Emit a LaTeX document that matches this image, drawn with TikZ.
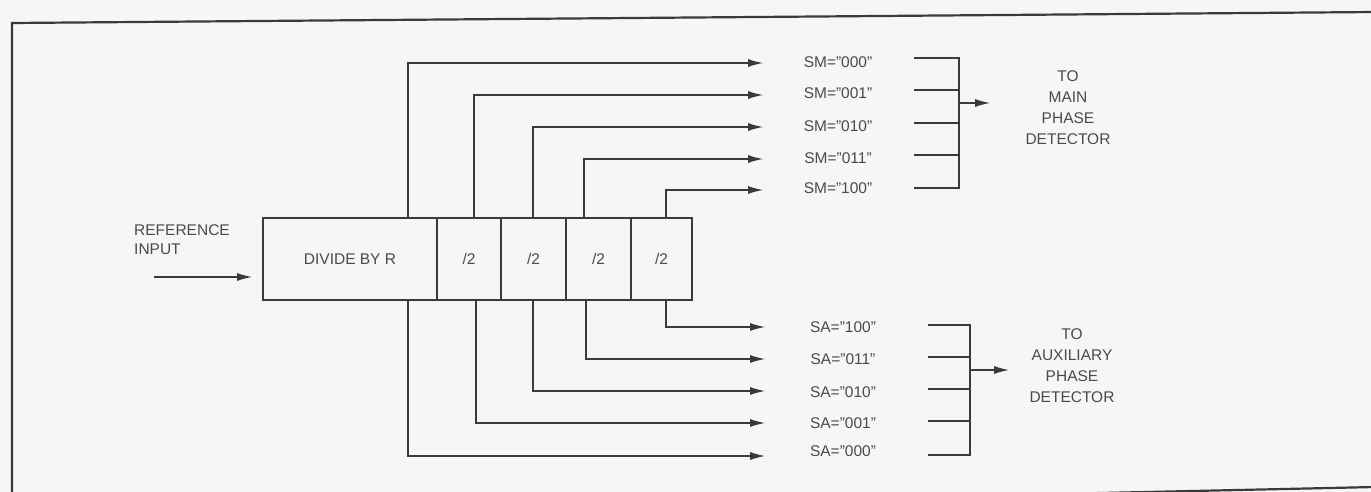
\documentclass[tikz,border=0pt]{standalone}
\usepackage{fontspec}
\setmainfont{Liberation Sans}
\usetikzlibrary{arrows.meta}
\definecolor{bg}{HTML}{F6F6F6}
\definecolor{ink}{HTML}{3A3A3A}
\definecolor{txt}{HTML}{4A4A4A}
\begin{document}
\begin{tikzpicture}[x=1pt,y=-1pt,
  blk/.style={draw=ink,line width=2pt,minimum height=82pt,inner sep=0pt,text=txt,font=\fontsize{15.5}{17}\selectfont},
  conn/.style={draw=ink,line width=1.1pt},
  arr/.style={conn,-{Latex[length=15pt,width=8pt]}},
  lbl/.style={text=txt,font=\fontsize{15.5}{17}\selectfont,inner sep=0pt},
  frame/.style={draw=ink,line width=2.2pt}]
\fill[bg] (0,0) rectangle (1371,492);
\useasboundingbox (0,0) rectangle (1371,492);
% frame
\draw[frame] (1375,12) -- (12,23) -- (12,495);
\draw[frame] (1010,495) -- (1375,487);
% blocks
\node[blk,minimum width=174pt] (divr) at (350,259) {DIVIDE BY R};
\node[blk,minimum width=64pt] (d1) at (469,259) {/2};
\node[blk,minimum width=65pt] (d2) at (533.5,259) {/2};
\node[blk,minimum width=65pt] (d3) at (598.5,259) {/2};
\node[blk,minimum width=61pt] (d4) at (661.5,259) {/2};
% input
\node[lbl,anchor=west,align=left] (refin) at (134,240) {REFERENCE\\[2pt]INPUT};
\coordinate (ins) at (154,277);
\coordinate (ine) at (252,277);
\draw[arr] (ins) -- (ine);
% x positions of taps
\coordinate (t0) at (408,0);
\coordinate (t1) at (474,0);
\coordinate (t2) at (533,0);
\coordinate (t3) at (584,0);
\coordinate (t4) at (666,0);
\coordinate (b0) at (408,0);
\coordinate (b1) at (476,0);
\coordinate (b2) at (533,0);
\coordinate (b3) at (586,0);
\coordinate (b4) at (666,0);
% SM tips
\coordinate (sm0) at (763,63);
\coordinate (sm1) at (763,95);
\coordinate (sm2) at (763,127);
\coordinate (sm3) at (763,159);
\coordinate (sm4) at (763,190);
\draw[arr] (divr.north -| t0) |- (sm0);
\draw[arr] (d1.north -| t1) |- (sm1);
\draw[arr] (d2.north -| t2) |- (sm2);
\draw[arr] (d3.north -| t3) |- (sm3);
\draw[arr] (d4.north -| t4) |- (sm4);
\node[lbl] (lsm0) at (838,62) {SM=''000''};
\node[lbl] (lsm1) at (838,93) {SM=''001''};
\node[lbl] (lsm2) at (838,126) {SM=''010''};
\node[lbl] (lsm3) at (838,158) {SM=''011''};
\node[lbl] (lsm4) at (838,188) {SM=''100''};
% SM bracket
\coordinate (mb0) at (914,58);
\coordinate (mb1) at (914,90);
\coordinate (mb2) at (914,123);
\coordinate (mb3) at (914,155);
\coordinate (mb4) at (914,188);
\coordinate (mv0) at (959,58);
\coordinate (mv4) at (959,188);
\draw[conn] (mb0) -- (mv0) -- (mv4) -- (mb4);
\draw[conn] (mb1) -- (mb1 -| mv0);
\draw[conn] (mb2) -- (mb2 -| mv0);
\draw[conn] (mb3) -- (mb3 -| mv0);
\coordinate (ma) at (959,103);
\coordinate (mae) at (990,103);
\draw[arr] (ma) -- (mae);
\node[lbl,align=center] (tomain) at (1068,108) {TO\\[4pt]MAIN\\[4pt]PHASE\\[4pt]DETECTOR};
% SA tips
\coordinate (sa4) at (765,327);
\coordinate (sa3) at (765,359);
\coordinate (sa2) at (765,391);
\coordinate (sa1) at (765,423);
\coordinate (sa0) at (765,456);
\draw[arr] (divr.south -| b0) |- (sa0);
\draw[arr] (d1.south -| b1) |- (sa1);
\draw[arr] (d2.south -| b2) |- (sa2);
\draw[arr] (d3.south -| b3) |- (sa3);
\draw[arr] (d4.south -| b4) |- (sa4);
\node[lbl] (lsa4) at (843,327) {SA=''100''};
\node[lbl] (lsa3) at (843,359) {SA=''011''};
\node[lbl] (lsa2) at (843,392) {SA=''010''};
\node[lbl] (lsa1) at (843,423) {SA=''001''};
\node[lbl] (lsa0) at (843,451) {SA=''000''};
% SA bracket
\coordinate (ab4) at (928,325);
\coordinate (ab3) at (928,357);
\coordinate (ab2) at (928,389);
\coordinate (ab1) at (928,421);
\coordinate (ab0) at (928,455);
\coordinate (av4) at (970,325);
\coordinate (av0) at (970,455);
\draw[conn] (ab4) -- (av4) -- (av0) -- (ab0);
\draw[conn] (ab3) -- (ab3 -| av4);
\draw[conn] (ab2) -- (ab2 -| av4);
\draw[conn] (ab1) -- (ab1 -| av4);
\coordinate (aa) at (970,370);
\coordinate (aae) at (1009,370);
\draw[arr] (aa) -- (aae);
\node[lbl,align=center] (toaux) at (1072,366) {TO\\[4pt]AUXILIARY\\[4pt]PHASE\\[4pt]DETECTOR};
\end{tikzpicture}
\end{document}
